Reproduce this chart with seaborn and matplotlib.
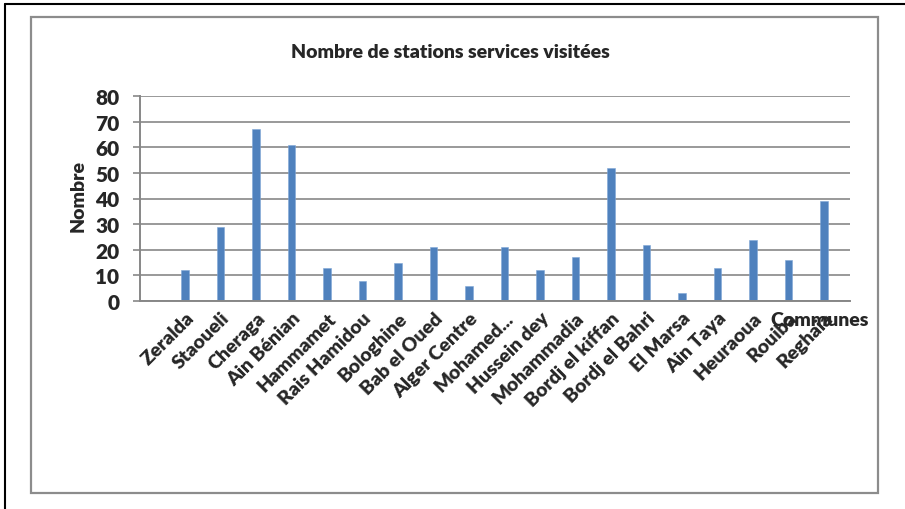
import matplotlib
matplotlib.use("Agg")
import matplotlib.pyplot as plt
import matplotlib.transforms as mtransforms
from matplotlib.patches import Rectangle
from matplotlib.lines import Line2D
import seaborn as sns

communes = ["Zeralda", "Staoueli", "Cheraga", "Ain Bénian", "Hammamet",
            "Rais Hamidou", "Bologhine", "Bab el Oued", "Alger Centre",
            "Mohamed...", "Hussein dey", "Mohammadia", "Bordj el kiffan",
            "Bordj el Bahri", "El Marsa", "Ain Taya", "Heuraoua", "Rouiba",
            "Reghaia"]
nombre = [12, 29, 67, 61, 13, 8, 15, 21, 6, 21, 12, 17, 52, 22, 3, 13, 24, 16, 39]
y_ticks = [0, 10, 20, 30, 40, 50, 60, 70, 80]

W = 800  # graisse du texte

sns.set_style("white")
plt.rcParams["font.family"] = ["Lato", "DejaVu Sans"]
plt.rcParams["font.weight"] = W

fig = plt.figure(figsize=(9.05, 5.10), dpi=100)
ax = fig.add_axes([140 / 905, 1 - 302 / 510, 710 / 905, 205 / 510])

sns.barplot(x=communes, y=nombre, color="#4F81BD", width=0.22, ax=ax,
            saturation=1, edgecolor="#7fa6d6", linewidth=0.4)

grid_col = "#878787"
ax.set_ylim(0, 80)
ax.set_yticks(y_ticks)
ax.set_xlim(-1.27, 18.73)
ax.yaxis.grid(True, color=grid_col, linewidth=1.2)
ax.set_axisbelow(True)
for s in ["top", "right"]:
    ax.spines[s].set_visible(False)
for s in ["left", "bottom"]:
    ax.spines[s].set_color(grid_col)
    ax.spines[s].set_linewidth(1.4)

ax.tick_params(axis="y", length=5, width=1.2, color=grid_col, labelsize=15, pad=10, left=True)
ax.tick_params(axis="x", length=0, pad=10, labelsize=14)
for lab in ax.get_yticklabels():
    lab.set_fontweight(W)
decal = mtransforms.ScaledTranslation(0.06, 0, fig.dpi_scale_trans)
for lab in ax.get_xticklabels():
    lab.set_rotation(45)
    lab.set_ha("right")
    lab.set_va("center")
    lab.set_rotation_mode("anchor")
    lab.set_fontweight(W)
    lab.set_transform(lab.get_transform() + decal)

ax.set_xlabel("")
ax.set_ylabel("")
fig.text(78 / 905, 1 - 196 / 510, "Nombre", fontsize=14, fontweight=W,
         rotation=90, ha="center", va="center")
fig.text(820 / 905, 1 - 320 / 510, "Communes", fontsize=14, fontweight=W,
         ha="center", va="center")
fig.text(450 / 905, 1 - 52 / 510, "Nombre de stations services visitées",
         fontsize=14, fontweight=W, ha="center", va="center")

# cadres
fig.add_artist(Rectangle((31 / 905, 1 - 494 / 510), 847 / 905, 476 / 510,
                         transform=fig.transFigure, fill=False,
                         edgecolor="#8c8c8c", linewidth=1.6))
fig.add_artist(Line2D([5 / 905, 5 / 905], [0, 1 - 5 / 510], transform=fig.transFigure,
                      color="black", linewidth=1.5))
fig.add_artist(Line2D([5 / 905, 1], [1 - 5 / 510, 1 - 5 / 510], transform=fig.transFigure,
                      color="black", linewidth=1.5))

fig.savefig("out.png", dpi=100)
